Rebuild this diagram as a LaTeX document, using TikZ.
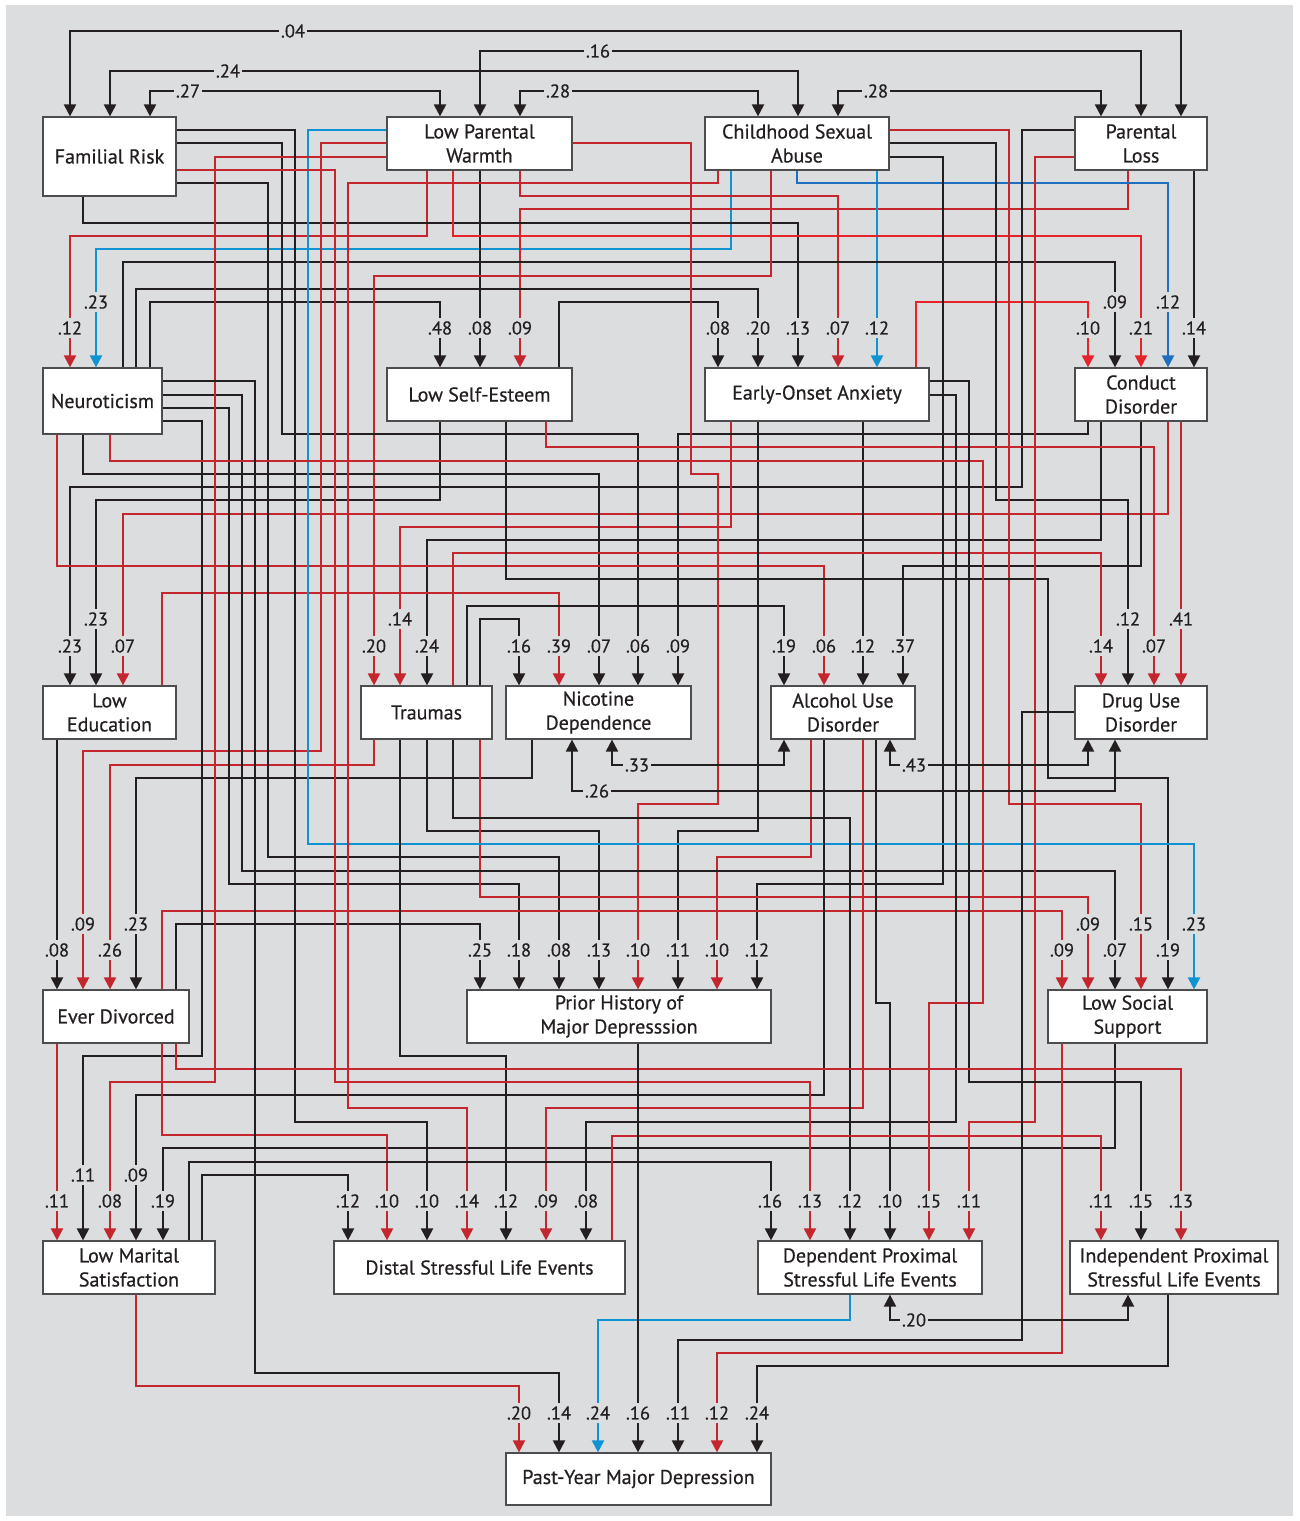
\documentclass[tikz,border=0pt]{standalone}
\usepackage{fontspec}
\setmainfont{PT Sans}[FakeBold=0.5]
\usetikzlibrary{arrows.meta}
\definecolor{myblack}{HTML}{231F20}
\definecolor{myred}{HTML}{C4262E}
\definecolor{myredb}{HTML}{E52329}
\definecolor{myblue}{HTML}{0F93D2}
\definecolor{mybluec}{HTML}{1E6FBF}
\definecolor{mybg}{HTML}{DCDDDF}
\definecolor{myboxc}{HTML}{4D4D4F}
\newcommand\bxfnt{\fontsize{20}{24}\selectfont}
\newcommand\lbfnt{\fontsize{18.5}{20}\selectfont}
\begin{document}
\begin{tikzpicture}[x=1pt,y=-1pt,
  >={Triangle[length=12pt,width=12pt]},
  ln/.style={line width=2.1pt},
  lnk/.style={ln,draw=myblack,->},
  lnr/.style={ln,draw=myred,->},
  lnrb/.style={ln,draw=myredb,->},
  lnb/.style={ln,draw=myblue,->},
  lnbc/.style={ln,draw=mybluec,->},
  lnc/.style={ln,draw=myblack,<->},
  lab/.style={fill=mybg,text=myblack,inner xsep=1.5pt,inner ysep=3pt,font=\lbfnt},
  box/.style={draw=myboxc,fill=white,line width=1.2pt,inner sep=0pt,align=center,text=myblack,font=\bxfnt}]
\useasboundingbox (0,0) rectangle (1299,1521);
\fill[white] (0,0) rectangle (1299,1521);
\fill[mybg] (6,5) rectangle (1293,1516);
% boxes
\node[box,minimum width=133pt,minimum height=79pt] (fr) at (109.5,156.5) {Familial Risk};
\node[box,minimum width=185pt,minimum height=53pt] (lpw) at (479.5,143.5) {Low Parental\\Warmth};
\node[box,minimum width=184pt,minimum height=53pt] (csa) at (797,143.5) {Childhood Sexual\\Abuse};
\node[box,minimum width=132pt,minimum height=53pt] (pl) at (1141,143.5) {Parental\\Loss};
\node[box,minimum width=119pt,minimum height=66pt] (neu) at (102.5,401) {Neuroticism};
\node[box,minimum width=185pt,minimum height=53pt] (lse) at (479.5,394.5) {Low Self-Esteem};
\node[box,minimum width=224pt,minimum height=53pt] (eoa) at (817,394.5) {Early-Onset Anxiety};
\node[box,minimum width=132pt,minimum height=53pt] (cd) at (1141,394.5) {Conduct\\Disorder};
\node[box,minimum width=133pt,minimum height=53pt] (led) at (109.5,712.5) {Low\\Education};
\node[box,minimum width=131pt,minimum height=53pt] (tra) at (426.5,712.5) {Traumas};
\node[box,minimum width=185pt,minimum height=53pt] (nic) at (598.5,712.5) {Nicotine\\Dependence};
\node[box,minimum width=144pt,minimum height=53pt] (alc) at (843,712.5) {Alcohol Use\\Disorder};
\node[box,minimum width=132pt,minimum height=53pt] (dru) at (1141,712.5) {Drug Use\\Disorder};
\node[box,minimum width=146pt,minimum height=53pt] (div) at (116,1016.5) {Ever Divorced};
\node[box,minimum width=304pt,minimum height=53pt] (phd) at (619,1016.5) {Prior History of\\Major Depresssion};
\node[box,minimum width=159pt,minimum height=53pt] (lss) at (1127.5,1016.5) {Low Social\\Support};
\node[box,minimum width=172pt,minimum height=53pt] (lms) at (129,1267.5) {Low Marital\\Satisfaction};
\node[box,minimum width=291pt,minimum height=53pt] (dsl) at (479.5,1267.5) {Distal Stressful Life Events};
\node[box,minimum width=224pt,minimum height=53pt] (dep) at (870,1267.5) {Dependent Proximal\\Stressful Life Events};
\node[box,minimum width=208pt,minimum height=53pt] (ind) at (1174,1267.5) {Independent Proximal\\Stressful Life Events};
\node[box,minimum width=265pt,minimum height=52pt] (pym) at (638.5,1479) {Past-Year Major Depression};
% top correlations
\draw[lnc] (fr.north -| 70,0) -- (70,31) -- (1181,31) -- (pl.north -| 1181,0);
\draw[lnc] (fr.north -| 110,0) -- (110,71) -- (798,71) -- (csa.north -| 798,0);
\draw[lnc] (fr.north -| 150,0) -- (150,91) -- (440,91) -- (lpw.north -| 440,0);
\draw[lnc] (lpw.north -| 480,0) -- (480,51) -- (1141,51) -- (pl.north -| 1141,0);
\draw[lnc] (lpw.north -| 520,0) -- (520,91) -- (758,91) -- (csa.north -| 758,0);
\draw[lnc] (csa.north -| 838,0) -- (838,91) -- (1101,91) -- (pl.north -| 1101,0);
% row 2 targets
\draw[lnr] (lpw.south -| 427,0) -- (427,236) -- (70,236) -- (neu.north -| 70,0);
\draw[lnb] (csa.south -| 731,0) -- (731,249) -- (96,249) -- (neu.north -| 96,0);
\draw[lnk] (neu.north -| 150,0) -- (150,302) -- (440,302) -- (lse.north -| 440,0);
\draw[lnk] (lpw.south -| 480,0) -- (lse.north -| 480,0);
\draw[lnr] (pl.south -| 1128,0) -- (1128,209) -- (520,209) -- (lse.north -| 520,0);
\draw[lnk] (lse.north -| 559,0) -- (559,302) -- (718,302) -- (eoa.north -| 718,0);
\draw[lnk] (neu.north -| 136,0) -- (136,289) -- (758,289) -- (eoa.north -| 758,0);
\draw[lnk] (fr.south -| 83,0) -- (83,223) -- (798,223) -- (eoa.north -| 798,0);
\draw[lnr] (lpw.south -| 520,0) -- (520,196) -- (838,196) -- (eoa.north -| 838,0);
\draw[lnb] (csa.south -| 877,0) -- (eoa.north -| 877,0);
\draw[lnrb] (eoa.north -| 916,0) -- (916,302) -- (1088,302) -- (cd.north -| 1088,0);
\draw[lnk] (neu.north -| 123,0) -- (123,262) -- (1115,262) -- (cd.north -| 1115,0);
\draw[lnrb] (lpw.south -| 453,0) -- (453,236) -- (1141,236) -- (cd.north -| 1141,0);
\draw[lnbc] (csa.south -| 797,0) -- (797,183) -- (1168,183) -- (cd.north -| 1168,0);
\draw[lnk] (pl.south -| 1194,0) -- (cd.north -| 1194,0);
% row 3 targets
\draw[lnk] (pl.west |- 0,130) -- (1022,130) -- (1022,487) -- (70,487) -- (led.north -| 70,0);
\draw[lnk] (lse.south -| 440,0) -- (440,500) -- (96,500) -- (led.north -| 96,0);
\draw[lnr] (cd.south -| 1168,0) -- (1168,514) -- (123,514) -- (led.north -| 123,0);
\draw[lnr] (csa.south -| 771,0) -- (771,276) -- (374,276) -- (tra.north -| 374,0);
\draw[lnr] (eoa.south -| 731,0) -- (731,527) -- (400,527) -- (tra.north -| 400,0);
\draw[lnk] (cd.south -| 1101,0) -- (1101,540) -- (427,540) -- (tra.north -| 427,0);
\draw[lnk] (tra.north -| 480,0) -- (480,619) -- (519,619) -- (nic.north -| 519,0);
\draw[lnr] (led.north -| 162,0) -- (162,593) -- (559,593) -- (nic.north -| 559,0);
\draw[lnk] (neu.south -| 83,0) -- (83,474) -- (599,474) -- (nic.north -| 599,0);
\draw[lnk] (fr.east |- 0,143) -- (282,143) -- (282,434) -- (638,434) -- (nic.north -| 638,0);
\draw[lnk] (cd.south -| 1088,0) -- (1088,434) -- (678,434) -- (nic.north -| 678,0);
\draw[lnk] (tra.north -| 467,0) -- (467,606) -- (784,606) -- (alc.north -| 784,0);
\draw[lnr] (neu.south -| 57,0) -- (57,566) -- (824,566) -- (alc.north -| 824,0);
\draw[lnk] (eoa.south -| 863,0) -- (alc.north -| 863,0);
\draw[lnk] (cd.south -| 1141,0) -- (1141,566) -- (903,566) -- (alc.north -| 903,0);
\draw[lnr] (tra.north -| 453,0) -- (453,553) -- (1101,553) -- (dru.north -| 1101,0);
\draw[lnk] (csa.east |- 0,143) -- (996,143) -- (996,500) -- (1128,500) -- (dru.north -| 1128,0);
\draw[lnr] (lse.south -| 546,0) -- (546,447) -- (1154,447) -- (dru.north -| 1154,0);
\draw[lnr] (cd.south -| 1181,0) -- (dru.north -| 1181,0);
% row 4 targets
\draw[lnk] (led.south -| 57,0) -- (div.north -| 57,0);
\draw[lnr] (lpw.west |- 0,143) -- (321,143) -- (321,751) -- (83,751) -- (div.north -| 83,0);
\draw[lnr] (tra.south -| 374,0) -- (374,765) -- (110,765) -- (div.north -| 110,0);
\draw[lnk] (nic.south -| 532,0) -- (532,778) -- (136,778) -- (div.north -| 136,0);
\draw[lnk] (div.north -| 176,0) -- (176,924) -- (480,924) -- (phd.north -| 480,0);
\draw[lnk] (neu.east |- 0,408) -- (229,408) -- (229,884) -- (519,884) -- (phd.north -| 519,0);
\draw[lnk] (fr.east |- 0,183) -- (268,183) -- (268,857) -- (559,857) -- (phd.north -| 559,0);
\draw[lnk] (tra.south -| 427,0) -- (427,831) -- (599,831) -- (phd.north -| 599,0);
\draw[lnr] (lpw.east |- 0,143) -- (691,143) -- (691,474) -- (718,474) -- (718,804) -- (638,804) -- (phd.north -| 638,0);
\draw[lnk] (eoa.south -| 758,0) -- (758,831) -- (678,831) -- (phd.north -| 678,0);
\draw[lnr] (alc.south -| 811,0) -- (811,857) -- (717,857) -- (phd.north -| 717,0);
\draw[lnk] (csa.east |- 0,157) -- (943,157) -- (943,884) -- (757,884) -- (phd.north -| 757,0);
\draw[lnr] (div.north -| 162,0) -- (162,911) -- (1062,911) -- (lss.north -| 1062,0);
\draw[lnr] (tra.south -| 480,0) -- (480,897) -- (1088,897) -- (lss.north -| 1088,0);
\draw[lnk] (neu.east |- 0,395) -- (242,395) -- (242,871) -- (1115,871) -- (lss.north -| 1115,0);
\draw[lnr] (csa.east |- 0,130) -- (1009,130) -- (1009,804) -- (1141,804) -- (lss.north -| 1141,0);
\draw[lnk] (lse.south -| 506,0) -- (506,579) -- (1048,579) -- (1048,778) -- (1168,778) -- (lss.north -| 1168,0);
\draw[lnb] (lpw.west |- 0,130) -- (308,130) -- (308,844) -- (1194,844) -- (lss.north -| 1194,0);
% row 5 targets
\draw[lnr] (div.south -| 57,0) -- (lms.north -| 57,0);
\draw[lnk] (neu.east |- 0,421) -- (202,421) -- (202,1056) -- (83,1056) -- (lms.north -| 83,0);
\draw[lnr] (lpw.west |- 0,157) -- (215,157) -- (215,1082) -- (110,1082) -- (lms.north -| 110,0);
\draw[lnk] (alc.south -| 824,0) -- (824,1095) -- (136,1095) -- (lms.north -| 136,0);
\draw[lnk] (lss.south -| 1115,0) -- (1115,1148) -- (163,1148) -- (lms.north -| 163,0);
\draw[lnk] (lms.north -| 202,0) -- (202,1175) -- (348,1175) -- (dsl.north -| 348,0);
\draw[lnr] (div.south -| 162,0) -- (162,1135) -- (387,1135) -- (dsl.north -| 387,0);
\draw[lnk] (fr.east |- 0,130) -- (295,130) -- (295,1122) -- (427,1122) -- (dsl.north -| 427,0);
\draw[lnr] (csa.south -| 718,0) -- (718,183) -- (348,183) -- (348,1108) -- (467,1108) -- (dsl.north -| 467,0);
\draw[lnk] (tra.south -| 400,0) -- (400,1056) -- (506,1056) -- (dsl.north -| 506,0);
\draw[lnr] (alc.south -| 863,0) -- (863,1108) -- (546,1108) -- (dsl.north -| 546,0);
\draw[lnk] (eoa.east |- 0,395) -- (956,395) -- (956,1122) -- (586,1122) -- (dsl.north -| 586,0);
\draw[lnk] (lms.north -| 189,0) -- (189,1162) -- (771,1162) -- (dep.north -| 771,0);
\draw[lnr] (fr.east |- 0,170) -- (335,170) -- (335,1082) -- (810,1082) -- (dep.north -| 810,0);
\draw[lnk] (tra.south -| 453,0) -- (453,818) -- (850,818) -- (dep.north -| 850,0);
\draw[lnk] (alc.south -| 876,0) -- (876,1003) -- (890,1003) -- (dep.north -| 890,0);
\draw[lnr] (neu.south -| 110,0) -- (110,461) -- (983,461) -- (983,1003) -- (929,1003) -- (dep.north -| 929,0);
\draw[lnr] (pl.west |- 0,157) -- (1035,157) -- (1035,1122) -- (969,1122) -- (dep.north -| 969,0);
\draw[lnr] (dsl.north -| 612,0) -- (612,1136) -- (1101,1136) -- (ind.north -| 1101,0);
\draw[lnk] (eoa.east |- 0,381) -- (969,381) -- (969,1082) -- (1141,1082) -- (ind.north -| 1141,0);
\draw[lnr] (div.south -| 176,0) -- (176,1069) -- (1181,1069) -- (ind.north -| 1181,0);
% row 6 targets
\draw[lnr] (lms.south -| 136,0) -- (136,1386) -- (519,1386) -- (pym.north -| 519,0);
\draw[lnk] (neu.east |- 0,381) -- (255,381) -- (255,1373) -- (559,1373) -- (pym.north -| 559,0);
\draw[lnb] (dep.south -| 850,0) -- (850,1320) -- (598,1320) -- (pym.north -| 598,0);
\draw[lnk] (phd.south -| 638,0) -- (pym.north -| 638,0);
\draw[lnk] (dru.west |- 0,712) -- (1022,712) -- (1022,1340) -- (678,1340) -- (pym.north -| 678,0);
\draw[lnr] (lss.south -| 1062,0) -- (1062,1353) -- (717,1353) -- (pym.north -| 717,0);
\draw[lnk] (ind.south -| 1168,0) -- (1168,1366) -- (757,1366) -- (pym.north -| 757,0);
% lower correlations
\draw[lnc] (nic.south -| 612,0) -- (612,765) -- (784,765) -- (alc.south -| 784,0);
\draw[lnc] (nic.south -| 572,0) -- (572,791) -- (1115,791) -- (dru.south -| 1115,0);
\draw[lnc] (alc.south -| 890,0) -- (890,765) -- (1088,765) -- (dru.south -| 1088,0);
\draw[lnc] (dep.south -| 890,0) -- (890,1320) -- (1128,1320) -- (ind.south -| 1128,0);
% labels
\foreach \x/\y/\t in {293/31/.04,228/71/.24,188/91/.27,598/51/.16,558/91/.28,876/91/.28,
 70/328/.12,96/302/.23,440/328/.48,480/328/.08,520/328/.09,718/328/.08,758/328/.20,798/328/.13,838/328/.07,877/328/.12,1088/328/.10,1115/302/.09,1141/328/.21,1168/302/.12,1194/328/.14,
 70/646/.23,96/619/.23,123/646/.07,374/646/.20,400/619/.14,427/646/.24,519/646/.16,559/646/.39,599/646/.07,638/646/.06,678/646/.09,784/646/.19,824/646/.06,863/646/.12,903/646/.37,1101/646/.14,1128/619/.12,1154/646/.07,1181/619/.41,
 57/950/.08,83/924/.09,110/950/.26,136/924/.23,480/950/.25,519/950/.18,559/950/.08,599/950/.13,638/950/.10,678/950/.11,717/950/.10,757/950/.12,1062/950/.09,1088/924/.09,1115/950/.07,1141/924/.15,1168/950/.19,1194/924/.23,
 57/1201/.11,83/1175/.11,110/1201/.08,136/1175/.09,163/1201/.19,348/1201/.12,387/1201/.10,427/1201/.10,467/1201/.14,506/1201/.12,546/1201/.09,586/1201/.08,770/1201/.16,810/1201/.13,850/1201/.12,890/1201/.10,929/1201/.15,969/1201/.11,1101/1201/.11,1141/1201/.15,1181/1201/.13,
 519/1413/.20,559/1413/.14,598/1413/.24,638/1413/.16,678/1413/.11,717/1413/.12,757/1413/.24,
 637/765/.33,597/791/.26,914/765/.43,914/1320/.20}
 \node[lab] (l\x x\y) at (\x,\y) {\t};
\end{tikzpicture}
\end{document}
